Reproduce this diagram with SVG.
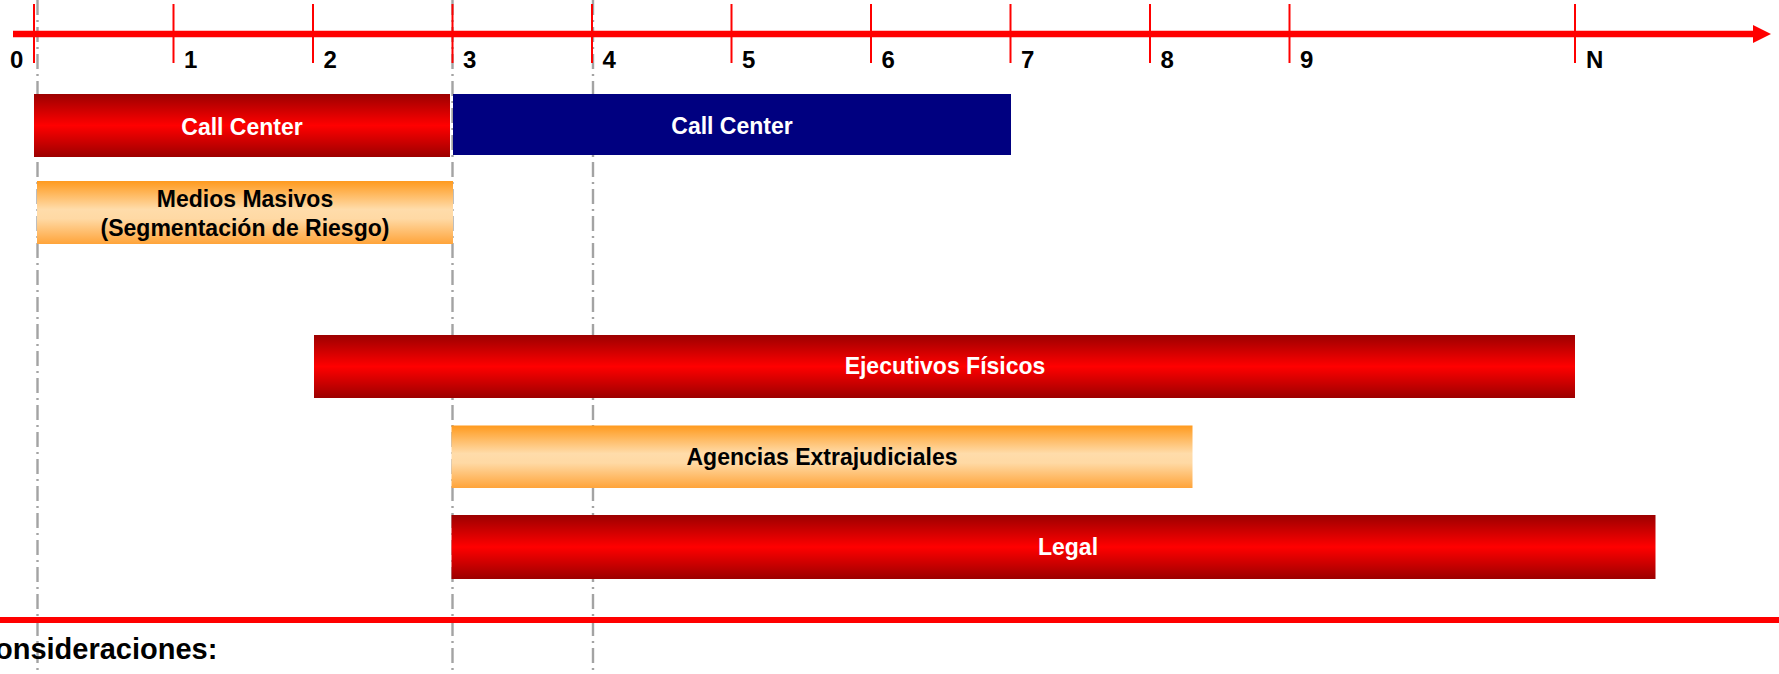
<svg xmlns="http://www.w3.org/2000/svg" width="1779" height="674" viewBox="0 0 1779 674">
<style>
text{font-family:"Liberation Sans",Arial,sans-serif;font-weight:bold}
.num{font-size:24px;fill:#000}
.lbl{font-size:23px;text-anchor:middle}
.w{fill:#fff}
.k{fill:#000}
.tick{stroke:#ff0000;stroke-width:2}
.guide{stroke:#a3a3a3;stroke-width:2.4;stroke-dasharray:15 5 2 5;fill:none}
</style>
<defs>
<linearGradient id="red" x1="0" y1="0" x2="0" y2="1">
<stop offset="0" stop-color="#9c0000"/>
<stop offset="0.5" stop-color="#ff0000"/>
<stop offset="1" stop-color="#9c0000"/>
</linearGradient>
<linearGradient id="orange" x1="0" y1="0" x2="0" y2="1">
<stop offset="0" stop-color="#ff9a1e"/>
<stop offset="0.45" stop-color="#ffdcaa"/>
<stop offset="0.6" stop-color="#ffd9a4"/>
<stop offset="1" stop-color="#ffa43a"/>
</linearGradient>
<marker id="arrow" markerUnits="userSpaceOnUse" markerWidth="20" markerHeight="20" refX="2" refY="9" orient="auto">
<polygon points="0,0 18,9 0,18" fill="#ff0000"/>
</marker>
</defs>
<g id="guides">
<line class="guide" x1="37.5" y1="0" x2="37.5" y2="674"/>
<line class="guide" x1="452.5" y1="0" x2="452.5" y2="674"/>
<line class="guide" x1="593" y1="0" x2="593" y2="674"/>
</g>
<g id="axis">
<line x1="13" y1="34" x2="1755" y2="34" stroke="#ff0000" stroke-width="6.5" marker-end="url(#arrow)"/>
<line class="tick" x1="34" y1="4" x2="34" y2="63"/>
<line class="tick" x1="173.5" y1="4" x2="173.5" y2="63"/>
<line class="tick" x1="313" y1="4" x2="313" y2="63"/>
<line class="tick" x1="452.5" y1="4" x2="452.5" y2="63"/>
<line class="tick" x1="592" y1="4" x2="592" y2="63"/>
<line class="tick" x1="731.5" y1="4" x2="731.5" y2="63"/>
<line class="tick" x1="871" y1="4" x2="871" y2="63"/>
<line class="tick" x1="1010.5" y1="4" x2="1010.5" y2="63"/>
<line class="tick" x1="1150" y1="4" x2="1150" y2="63"/>
<line class="tick" x1="1289.5" y1="4" x2="1289.5" y2="63"/>
<line class="tick" x1="1575" y1="4" x2="1575" y2="63"/>
<text class="num" x="10" y="68">0</text>
<text class="num" x="184" y="68">1</text>
<text class="num" x="323.5" y="68">2</text>
<text class="num" x="463" y="68">3</text>
<text class="num" x="602.5" y="68">4</text>
<text class="num" x="742" y="68">5</text>
<text class="num" x="881.5" y="68">6</text>
<text class="num" x="1021" y="68">7</text>
<text class="num" x="1160.5" y="68">8</text>
<text class="num" x="1300" y="68">9</text>
<text class="num" x="1586" y="68">N</text>
</g>
<g id="call-center-1">
<rect x="34" y="94" width="416" height="63" fill="url(#red)"/>
<text class="lbl w" x="242" y="135">Call Center</text>
</g>
<g id="call-center-2">
<rect x="453" y="94" width="558" height="61" fill="#000080"/>
<text class="lbl w" x="732" y="134">Call Center</text>
</g>
<g id="medios-masivos">
<rect x="37" y="181" width="416" height="63" fill="url(#orange)"/>
<text class="lbl k" x="245" y="207">Medios Masivos</text>
<text class="lbl k" x="245" y="236">(Segmentación de Riesgo)</text>
</g>
<g id="ejecutivos-fisicos">
<rect x="314" y="335" width="1261" height="63" fill="url(#red)"/>
<text class="lbl w" x="945" y="374">Ejecutivos Físicos</text>
</g>
<g id="agencias-extrajudiciales">
<rect x="451.5" y="425.5" width="741" height="62.5" fill="url(#orange)"/>
<text class="lbl k" x="822" y="465">Agencias Extrajudiciales</text>
</g>
<g id="legal">
<rect x="451.5" y="515" width="1204" height="64" fill="url(#red)"/>
<text class="lbl w" x="1068" y="555">Legal</text>
</g>
<g id="footer">
<rect x="0" y="617" width="1779" height="6" fill="#ff0000"/>
<text x="-5" y="659" font-size="29" fill="#000">onsideraciones:</text>
</g>
</svg>
